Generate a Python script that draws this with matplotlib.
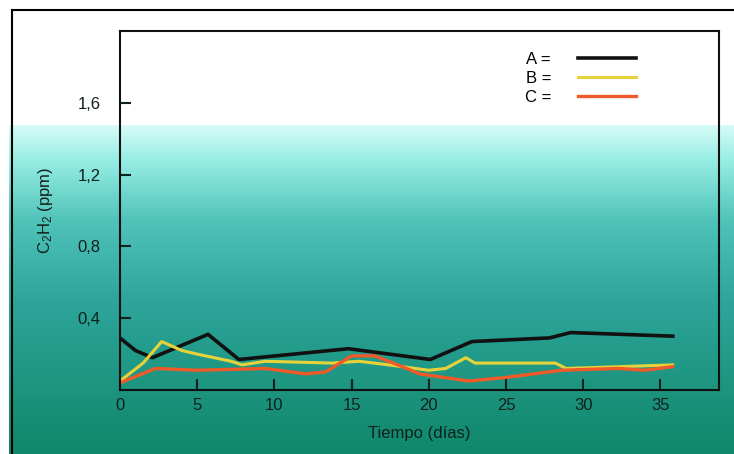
import numpy as np
import matplotlib
matplotlib.use('Agg')
import matplotlib.pyplot as plt
from matplotlib.lines import Line2D

plt.rcParams['font.family'] = ['Liberation Sans', 'DejaVu Sans']
plt.rcParams['mathtext.fontset'] = 'custom'
plt.rcParams['mathtext.rm'] = 'Liberation Sans'
plt.rcParams['mathtext.it'] = 'Liberation Sans'

# Data (days, C2H2 ppm)
dias_a = [0, 1, 2.1, 5.7, 7.7, 14.8, 20.1, 22.8, 27.8, 29.2, 35.8]
serie_a = [0.29, 0.22, 0.18, 0.31, 0.17, 0.23, 0.17, 0.27, 0.29, 0.32, 0.30]

dias_b = [0, 1.5, 2.7, 4, 5, 7.2, 7.9, 9.4, 13.7, 15.5, 17.4, 20, 21.1, 22.4, 23, 28.2, 28.9, 35.8]
serie_b = [0.05, 0.15, 0.27, 0.22, 0.20, 0.16, 0.14, 0.16, 0.15, 0.16, 0.14, 0.11, 0.12, 0.18, 0.15, 0.15, 0.12, 0.14]

dias_c = [0, 2.3, 5, 9.4, 12, 13.3, 15, 16.5, 18, 19.4, 22.6, 25, 28.6, 32.3, 34, 35.8]
serie_c = [0.04, 0.12, 0.11, 0.12, 0.09, 0.10, 0.19, 0.19, 0.14, 0.09, 0.05, 0.07, 0.11, 0.12, 0.11, 0.13]

x_ticks = [0, 5, 10, 15, 20, 25, 30, 35]
y_ticks = [0.4, 0.8, 1.2, 1.6]
y_labels = ['0,4', '0,8', '1,2', '1,6']

W, H = 734, 454
fig = plt.figure(figsize=(W / 100, H / 100), dpi=100)

# background: white top, teal gradient below (scanned page look)
bg = fig.add_axes([0, 0, 1, 1], zorder=-1)
img = np.ones((H, W, 3))
rows = np.arange(H)
stops_y = [125, 160, 220, 300, 380, 454]
stops_rgb = np.array([(215, 252, 248), (150, 238, 228), (80, 195, 185),
                      (45, 165, 155), (30, 150, 130), (15, 135, 105)]) / 255
for k in range(3):
    col = np.interp(rows, stops_y, stops_rgb[:, k])
    img[125:, 9:, k] = col[125:, None]
bg.imshow(img, extent=[0, W, H, 0], aspect='auto')
bg.set_xlim(0, W)
bg.set_ylim(H, 0)
bg.axis('off')

# outer frame
fig.add_artist(Line2D([12 / W, 12 / W], [0, 1 - 10 / H], color='black', lw=1.5))
fig.add_artist(Line2D([12 / W, 1], [1 - 10 / H, 1 - 10 / H], color='black', lw=1.5))

ax = fig.add_axes([120 / W, 1 - 390 / H, (719 - 120) / W, (390 - 31) / H])
ax.patch.set_alpha(0)

ax.plot(dias_a, serie_a, color='#111111', lw=2.6, label='A =')
ax.plot(dias_b, serie_b, color='#e8d23a', lw=2.2, label='B =')
ax.plot(dias_c, serie_c, color='#f05a28', lw=2.4, label='C =')

ax.set_xlim(0, 38.8)
ax.set_ylim(0, 2.0)
ax.set_xticks(x_ticks)
ax.set_yticks(y_ticks)
ax.set_yticklabels(y_labels)
ax.tick_params(axis='both', direction='in', length=8, width=1.5,
               labelsize=12, colors='#10201c')
ax.tick_params(axis='y', pad=14)
ax.tick_params(axis='x', pad=6)
for s in ax.spines.values():
    s.set_color('#111111')
    s.set_linewidth(1.5)

ax.set_xlabel('Tiempo (días)', fontsize=12, color='#10201c', labelpad=9)
ax.set_ylabel(r'C$_2$H$_2$ (ppm)', fontsize=12, color='#10201c', labelpad=16)

leg = ax.legend(loc='upper right', bbox_to_anchor=(636 / W, 1 - 52 / H),
                bbox_transform=fig.transFigure, markerfirst=False, frameon=False,
                fontsize=12, handlelength=3.5, handletextpad=1.6,
                labelspacing=0.25, borderpad=0, borderaxespad=0)

fig.savefig('out.png', dpi=100)
